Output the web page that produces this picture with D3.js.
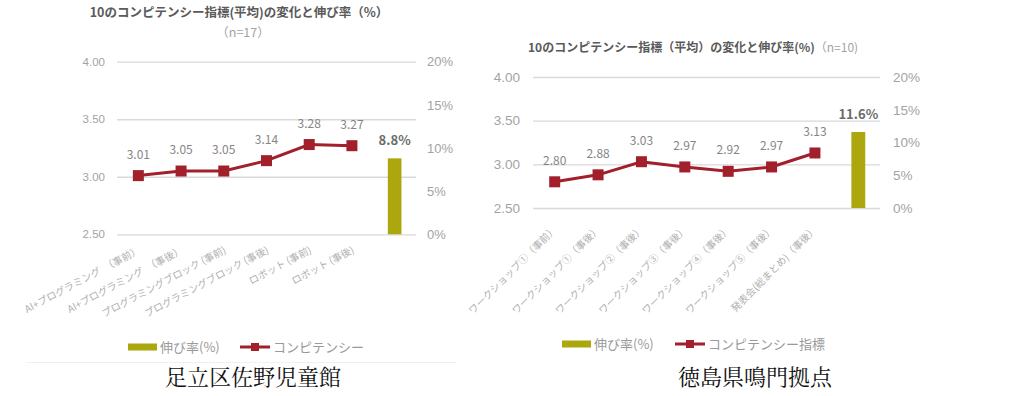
<!DOCTYPE html>
<html>
<head>
<meta charset="utf-8">
<script src="https://cdn.jsdelivr.net/npm/d3@7"></script>
<style>
  body { margin: 0; background: #fff; }
  svg { font-family: "Noto Sans CJK JP", "Noto Sans", sans-serif; }
</style>
</head>
<body>
<div id="my_dataviz"></div>
<script>
// data: 足立区佐野児童館
var adachiCategories = ["AI+プログラミング　（事前）", "AI+プログラミング　（事後）", "プログラミングブロック (事前)",
  "プログラミングブロック (事後)", "ロボット (事前)", "ロボット (事後)"];
var adachiScores = [3.01, 3.05, 3.05, 3.14, 3.28, 3.27];
var adachiGrowth = 8.8;

// data: 徳島県鳴門拠点
var narutoCategories = ["ワークショップ①（事前）", "ワークショップ①（事後）", "ワークショップ②（事後）",
  "ワークショップ③（事後）", "ワークショップ④（事後）", "ワークショップ⑤（事後）", "発表会(総まとめ)（事後）"];
var narutoScores = [2.80, 2.88, 3.03, 2.97, 2.92, 2.97, 3.13];
var narutoGrowth = 11.6;

// tick labels (shared)
var scoreTicks = [2.5, 3.0, 3.5, 4.0];
var growthTicks = [0, 5, 10, 15, 20];

var BAR = "#aca60f", LINE = "#a21f2c";

var svg = d3.select("#my_dataviz")
  .append("svg")
    .attr("width", 1031)
    .attr("height", 396);

function drawPanel(o) {
  var g = svg.append("g");
  var x = d3.scaleBand()
    .domain(o.categories.concat(["__growth"]))
    .range([o.left, o.right]);
  var y = d3.scaleLinear().domain([2.5, 4]).range([o.bottom, o.top]);
  var y2 = d3.scaleLinear().domain([0, 20]).range([o.bottom, o.top]);
  var cx = function(c) { return x(c) + x.bandwidth() / 2; };

  // gridlines + left axis
  var la = g.append("g")
    .attr("transform", "translate(" + o.left + ",0)")
    .call(d3.axisLeft(y).tickValues(scoreTicks).tickSize(-(o.right - o.left))
      .tickPadding(o.leftPad).tickFormat(d3.format(".2f")));
  la.select(".domain").remove();
  la.selectAll(".tick line").attr("stroke", "#d9d9d9").attr("stroke-width", 1.3);
  la.selectAll(".tick text").attr("fill", "#a3a3a3").style("font-size", o.axisFont + "px");

  // right axis (%)
  var ra = g.append("g")
    .attr("transform", "translate(" + o.right + ",0)")
    .call(d3.axisRight(y2).tickValues(growthTicks).tickSize(0)
      .tickPadding(o.rightPad).tickFormat(function(d) { return d + "%"; }));
  ra.select(".domain").remove();
  ra.selectAll(".tick text").attr("fill", "#a3a3a3").style("font-size", o.pctFont + "px");

  // x labels (rotated)
  g.selectAll("xlab")
    .data(o.categories)
    .enter()
    .append("text")
      .attr("transform", function(d) {
        return "translate(" + (cx(d) + o.labDx) + "," + (o.bottom + o.labDy) + ") rotate(" + o.angle + ")";
      })
      .attr("text-anchor", "end")
      .attr("fill", "#b0b0b0")
      .style("font-size", "10px")
      .text(function(d) { return d; });

  // growth bar
  var bw = x.bandwidth() * 0.32;
  g.append("rect")
    .attr("x", cx("__growth") - bw / 2)
    .attr("y", y2(o.growth))
    .attr("width", bw)
    .attr("height", o.bottom - y2(o.growth))
    .attr("fill", BAR);
  g.append("text")
    .attr("x", cx("__growth"))
    .attr("y", y2(o.growth) - 13)
    .attr("text-anchor", "middle")
    .attr("fill", "#6b6b6b")
    .style("font-size", "13px")
    .style("font-weight", "bold")
    .text(o.growth.toFixed(1) + "%");

  // competency line
  var pts = o.categories.map(function(c, i) { return {c: c, v: o.scores[i]}; });
  g.append("path")
    .datum(pts)
    .attr("fill", "none")
    .attr("stroke", LINE)
    .attr("stroke-width", 3)
    .attr("d", d3.line().x(function(d) { return cx(d.c); }).y(function(d) { return y(d.v); }));
  g.selectAll("mk")
    .data(pts)
    .enter()
    .append("rect")
      .attr("x", function(d) { return cx(d.c) - 5.5; })
      .attr("y", function(d) { return y(d.v) - 5.5; })
      .attr("width", 11)
      .attr("height", 11)
      .attr("fill", LINE);
  g.selectAll("vl")
    .data(pts)
    .enter()
    .append("text")
      .attr("x", function(d) { return cx(d.c); })
      .attr("y", function(d) { return y(d.v) - 17; })
      .attr("text-anchor", "middle")
      .attr("fill", "#858585")
      .style("font-size", "12px")
      .text(function(d) { return d.v.toFixed(2); });

  // legend
  var lg = g.append("g").attr("transform", "translate(" + o.legX + "," + o.legY + ")");
  lg.append("rect").attr("x", 0).attr("y", -3.5).attr("width", 29).attr("height", 7).attr("fill", BAR);
  lg.append("text").attr("x", 32).attr("y", 4.5).attr("fill", "#9a9a9a").style("font-size", "13px").text("伸び率(%)");
  lg.append("line").attr("x1", o.legGap).attr("x2", o.legGap + 30).attr("y1", 0).attr("y2", 0)
    .attr("stroke", LINE).attr("stroke-width", 3);
  lg.append("rect").attr("x", o.legGap + 11).attr("y", -4).attr("width", 8).attr("height", 8).attr("fill", LINE);
  lg.append("text").attr("x", o.legGap + 33).attr("y", 4.5).attr("fill", "#9a9a9a").style("font-size", "13px").text(o.legendLine);

  // caption
  g.append("text")
    .attr("x", o.capX)
    .attr("y", 385)
    .attr("text-anchor", "middle")
    .attr("fill", "#111")
    .style("font-size", "22px")
    .style("font-family", "'Noto Serif CJK JP','Noto Sans CJK JP',serif")
    .text(o.caption);
  return g;
}

// left panel
var gl = drawPanel({
  categories: adachiCategories, scores: adachiScores, growth: adachiGrowth,
  left: 117, right: 416, top: 61.7, bottom: 234.3,
  leftPad: 12, rightPad: 11, axisFont: 11.5, pctFont: 13,
  angle: -28, labDx: 3, labDy: 18,
  legX: 128, legY: 347, legGap: 112, legendLine: "コンピテンシー",
  caption: "足立区佐野児童館", capX: 253
});
gl.append("text").attr("x", 239).attr("y", 17).attr("text-anchor", "middle")
  .attr("fill", "#5a5a5a").style("font-size", "12.5px").style("font-weight", "bold")
  .text("10のコンピテンシー指標(平均)の変化と伸び率（%）");
gl.append("text").attr("x", 243).attr("y", 37).attr("text-anchor", "middle")
  .attr("fill", "#a3a3a3").style("font-size", "12.5px").text("（n=17）");
gl.append("line").attr("x1", 26).attr("x2", 456).attr("y1", 362.5).attr("y2", 362.5)
  .attr("stroke", "#f4eeee").attr("stroke-width", 1);

// right panel
var gr = drawPanel({
  categories: narutoCategories, scores: narutoScores, growth: narutoGrowth,
  left: 533, right: 880, top: 77, bottom: 208,
  leftPad: 13, rightPad: 13, axisFont: 13.5, pctFont: 13.5,
  angle: -45, labDx: 3, labDy: 22,
  legX: 562, legY: 344, legGap: 113, legendLine: "コンピテンシー指標",
  caption: "徳島県鳴門拠点", capX: 755
});
var rt = gr.append("text").attr("x", 528).attr("y", 52).style("font-size", "12px");
rt.append("tspan").attr("fill", "#5a5a5a").style("font-weight", "bold")
  .text("10のコンピテンシー指標（平均）の変化と伸び率(%)");
rt.append("tspan").attr("fill", "#a3a3a3").text("（n=10)");
</script>
</body>
</html>
